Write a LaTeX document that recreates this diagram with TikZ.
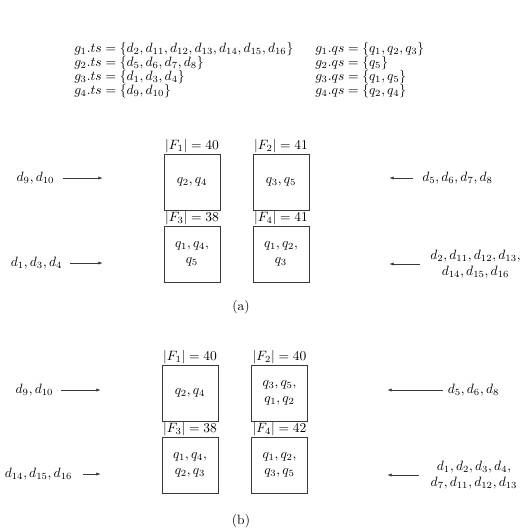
\documentclass[tikz,border=0pt]{standalone}
\usepackage{amsmath}
\usetikzlibrary{arrows.meta}
\definecolor{inkgray}{HTML}{3A3A3A}

\begin{document}
\begin{tikzpicture}[x=.74pt,y=-.74pt,>={Latex[length=3.5pt,width=2.4pt]},
  frag/.style={draw=inkgray,semithick,minimum size=41.4pt,inner sep=1pt,align=center},
  size/.style={above,inner sep=.4pt},
  rows/.style={anchor=base west,inner sep=0pt,align=left,font=\linespread{.863}\selectfont},
  feed/.style={->,inkgray,semithick,shorten <=#1},feed/.default=2.6pt]
 \useasboundingbox (0,0) rectangle (520,530);
 % group lists
 \node[rows] (tslist) at (74,94.5) {$g_1.ts=\{d_2,d_{11},d_{12},d_{13},d_{14},d_{15},d_{16}\}$\\
   $g_2.ts=\{d_5,d_6,d_7,d_8\}$\\ $g_3.ts=\{d_1,d_3,d_4\}$\\ $g_4.ts=\{d_9,d_{10}\}$};
 \node[rows] (qslist) at (315,94.5) {$g_1.qs=\{q_1,q_2,q_3\}$\\
   $g_2.qs=\{q_5\}$\\ $g_3.qs=\{q_1,q_5\}$\\ $g_4.qs=\{q_2,q_4\}$};
 % (a)
 \node[frag] (fa1) at (192,182) {$q_2,q_4$};
 \node[frag] (fa2) at (281,182) {$q_3,q_5$};
 \node[frag] (fa3) at (192,254) {$q_1,q_4,$\\$q_5$};
 \node[frag] (fa4) at (281,254) {$q_1,q_2,$\\$q_3$};
 \node[size] (sa1) at (fa1.north) {$|F_1|=40$};
 \node[size] (sa2) at (fa2.north) {$|F_2|=41$};
 \node[size] (sa3) at (fa3.north) {$|F_3|=38$};
 \node[size] (sa4) at (fa4.north) {$|F_4|=41$};
 \node (ta1) at (35.5,178) {$d_9,d_{10}$};
 \node (ta3) at (36.5,263) {$d_1,d_3,d_4$};
 \node (ta2) at (457.5,178) {$d_5,d_6,d_7,d_8$};
 \node[align=center] (ta4) at (475.5,264) {$d_2,d_{11},d_{12},d_{13},$\\$d_{14},d_{15},d_{16}$};
 \coordinate (ea1) at (103,178);
 \coordinate (ea3) at (103,263);
 \coordinate (ea2) at (389,178);
 \coordinate (ea4) at (389,264);
 \draw[feed] (ta1) -- (ea1);
 \draw[feed] (ta3) -- (ea3);
 \draw[feed=3.3pt] (ta2) -- (ea2);
 \draw[feed=4pt] (ta4) -- (ea4);
 \node (capa) at (241,307) {(a)};
 % (b)
 \node[frag] (fb1) at (190,393) {$q_2,q_4$};
 \node[frag] (fb2) at (279.5,393) {$q_3,q_5,$\\$q_1,q_2$};
 \node[frag] (fb3) at (190,465) {$q_1,q_4,$\\$q_2,q_3$};
 \node[frag] (fb4) at (279.5,465) {$q_1,q_2,$\\$q_3,q_5$};
 \node[size] (sb1) at (fb1.north) {$|F_1|=40$};
 \node[size] (sb2) at (fb2.north) {$|F_2|=40$};
 \node[size] (sb3) at (fb3.north) {$|F_3|=38$};
 \node[size] (sb4) at (fb4.north) {$|F_4|=42$};
 \node (tb1) at (34.5,390) {$d_9,d_{10}$};
 \node (tb3) at (38.5,474) {$d_{14},d_{15},d_{16}$};
 \node (tb2) at (473.5,390) {$d_5,d_6,d_8$};
 \node[align=center] (tb4) at (474,475) {$d_1,d_2,d_3,d_4,$\\$d_7,d_{11},d_{12},d_{13}$};
 \coordinate (eb1) at (101,390);
 \coordinate (eb3) at (101,474);
 \coordinate (eb2) at (387,390);
 \coordinate (eb4) at (387,475);
 \draw[feed=1.9pt] (tb1) -- (eb1);
 \draw[feed=4.8pt] (tb3) -- (eb3);
 \draw[feed=.4pt] (tb2) -- (eb2);
 \draw[feed=5.5pt] (tb4) -- (eb4);
 \node (capb) at (241,521) {(b)};
\end{tikzpicture}
\end{document}
